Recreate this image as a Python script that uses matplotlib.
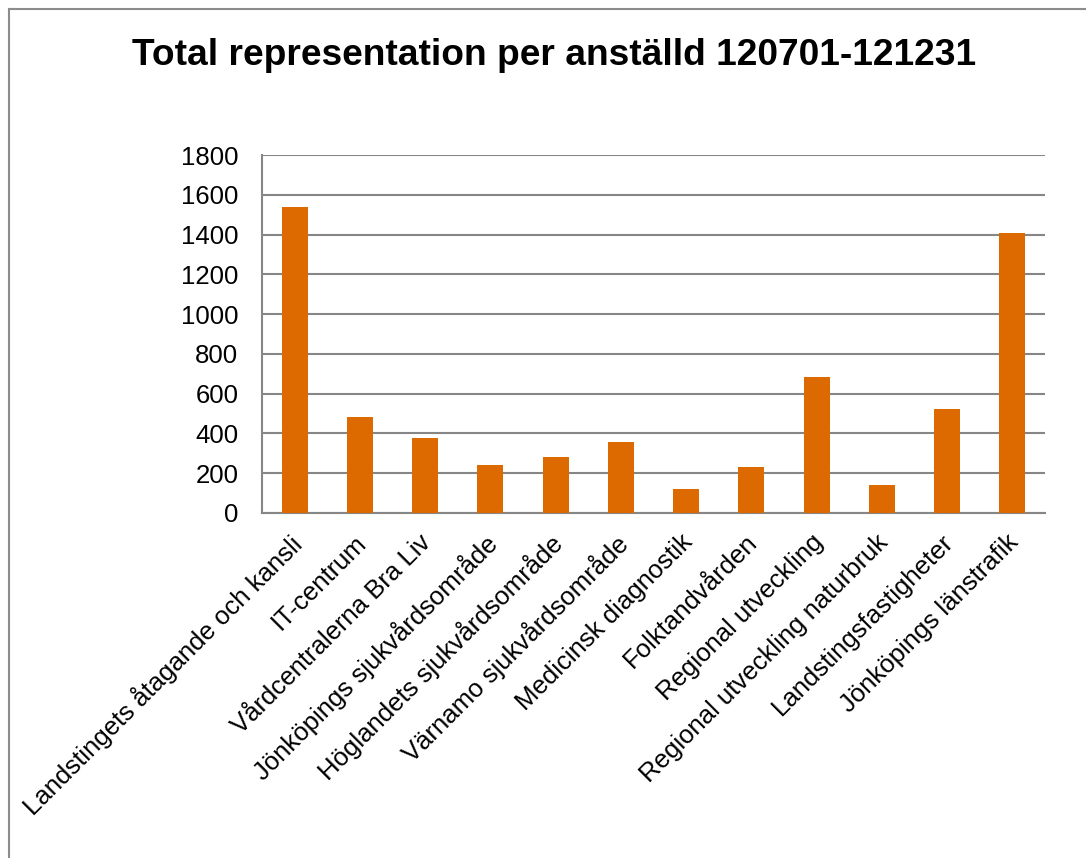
import matplotlib.pyplot as plt
import matplotlib.transforms as mtransforms
from matplotlib.lines import Line2D

plt.rcParams['font.family'] = ['Liberation Sans', 'DejaVu Sans']

categories = [
    "Landstingets åtagande och kansli",
    "IT-centrum",
    "Vårdcentralerna Bra Liv",
    "Jönköpings sjukvårdsområde",
    "Höglandets sjukvårdsområde",
    "Värnamo sjukvårdsområde",
    "Medicinsk diagnostik",
    "Folktandvården",
    "Regional utveckling",
    "Regional utveckling naturbruk",
    "Landstingsfastigheter",
    "Jönköpings länstrafik",
]
values = [1537, 482, 376, 243, 280, 357, 119, 230, 683, 139, 523, 1406]
yticks = [0, 200, 400, 600, 800, 1000, 1200, 1400, 1600, 1800]
title = "Total representation per anställd 120701-121231"

fig = plt.figure(figsize=(10.86, 8.58), dpi=100)
ax = fig.add_axes([0.2413, 0.4021, 0.7209, 0.4172])

x = list(range(len(categories)))
ax.bar(x, values, width=0.4, color='#DC6A00', zorder=3)

ax.set_xlim(-0.5, len(categories) - 0.5)
ax.set_ylim(0, 1800)
ax.set_yticks(yticks)
ax.set_xticks(x)
ax.set_xticklabels(categories, rotation=45, ha='right', va='top', rotation_mode='anchor')
ax.tick_params(axis='y', length=0, pad=17, labelsize=18.5)
ax.tick_params(axis='x', length=0, pad=11, labelsize=18.5)
# nudge the slanted labels a little to the left
shift = mtransforms.ScaledTranslation(-6 / 100, -2 / 100, fig.dpi_scale_trans)
for lab in ax.get_xticklabels():
    lab.set_transform(lab.get_transform() + shift)
ax.grid(axis='y', color='#868686', linewidth=1.5, zorder=0)
for s in ['top', 'right']:
    ax.spines[s].set_visible(False)
for s in ['left', 'bottom']:
    ax.spines[s].set_color('#868686')
    ax.spines[s].set_linewidth(1.5)

fig.text(0.51, 0.924, title, ha='center', va='baseline', fontsize=26.75, fontweight='bold')

# outer chart frame (only top and left visible in the crop)
fig.add_artist(Line2D([9 / 1086, 1], [1 - 9 / 858, 1 - 9 / 858], color='#8c8c8c', linewidth=1.5))
fig.add_artist(Line2D([9 / 1086, 9 / 1086], [0, 1 - 9 / 858], color='#8c8c8c', linewidth=1.5))

fig.savefig('out.png', dpi=100)
